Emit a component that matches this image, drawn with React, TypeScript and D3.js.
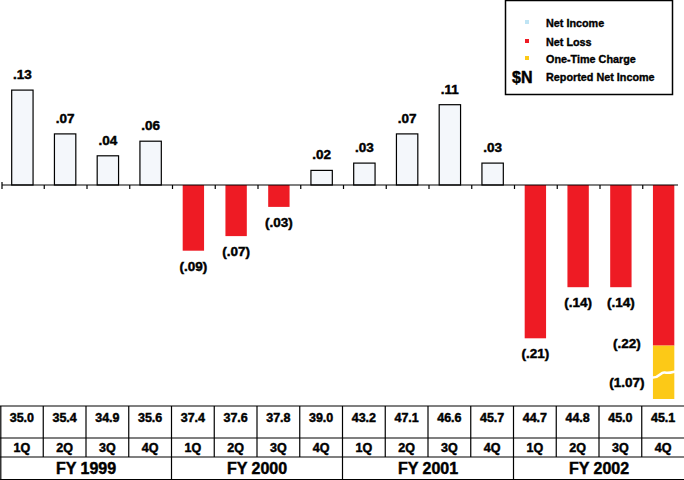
import React from 'react';
import * as d3 from 'd3';

const quarters = ['1Q', '2Q', '3Q', '4Q', '1Q', '2Q', '3Q', '4Q', '1Q', '2Q', '3Q', '4Q', '1Q', '2Q', '3Q', '4Q'];
const years = ['FY 1999', 'FY 2000', 'FY 2001', 'FY 2002'];
const eps = [0.13, 0.07, 0.04, 0.06, -0.09, -0.07, -0.03, 0.02, 0.03, 0.07, 0.11, 0.03, -0.21, -0.14, -0.14, -0.22];
const oneTime = [0, 0, 0, 0, 0, 0, 0, 0, 0, 0, 0, 0, 0, 0, 0, -1.07];
const reported = ['35.0', '35.4', '34.9', '35.6', '37.4', '37.6', '37.8', '39.0', '43.2', '47.1', '46.6', '45.7', '44.7', '44.8', '45.0', '45.1'];
const legendItems = ['Net Income', 'Net Loss', 'One-Time Charge', 'Reported Net Income'];

const W = 684;
const H = 480;
const FONT = '"Liberation Sans", Arial, Helvetica, sans-serif';
const RED = '#ee1b24';
const GOLD = '#fcc917';
const LIGHT = '#f4f7fb';

const fmt = (v: number) => {
  const s = Math.abs(v).toFixed(2).replace(/^0/, '');
  return v < 0 ? `(${s})` : s;
};

const App: React.FC = () => {
  const idx = d3.range(quarters.length);
  const x = d3.scaleBand<number>().domain(idx).range([1, W + 1]).paddingInner(0.5).paddingOuter(0.25);
  const col = d3.scaleBand<number>().domain(idx).range([0.5, W + 0.5]);
  const y = d3.scaleLinear().domain([-0.25, 0.15]).range([185 + 0.25 * 730, 185 - 0.15 * 730]);
  const y0 = y(0);
  const tableTop = 406;
  const row1 = 438;
  const row2 = 457;
  const tableBottom = 479.5;
  const clipBottom = 399;

  // heavier text, closer to the black sans of the original
  const heavy = { stroke: '#000', strokeWidth: 0.45, paintOrder: 'stroke' as const };

  return (
    <svg width={W} height={H} style={{ position: 'absolute', left: 0, top: 0 }} fontFamily={FONT} fontWeight="bold">
      <rect width={W} height={H} fill="#fff" />

      {/* bars */}
      {eps.map((v, i) => {
        const bx = x(i)!;
        const bw = x.bandwidth();
        if (v >= 0) {
          return (
            <g key={i}>
              <rect x={bx} y={y(v)} width={bw} height={y0 - y(v)} fill={LIGHT} stroke="#000" strokeWidth={1.2} />
              <text x={bx + bw / 2} y={y(v) - 11} textAnchor="middle" fontSize={13.5} {...heavy}>{fmt(v)}</text>
            </g>
          );
        }
        const extra = oneTime[i];
        if (extra < 0) {
          const top = y(v);
          const bottom = Math.min(y(v + extra), clipBottom);
          const mid = top + (bottom - top) * 0.56;
          return (
            <g key={i}>
              <rect x={bx} y={y0} width={bw} height={top - y0} fill={RED} />
              <rect x={bx} y={top} width={bw} height={bottom - top} fill={GOLD} />
              <path
                d={`M${bx - 1},${mid + 2} C${bx + bw * 0.3},${mid + 3} ${bx + bw * 0.35},${mid - 4} ${bx + bw * 0.55},${mid - 3} S${bx + bw * 0.85},${mid - 3} ${bx + bw + 1},${mid - 4}`}
                fill="none" stroke="#fff" strokeWidth={2.5}
              />
              <text x={bx - 26} y={top + 2} textAnchor="middle" fontSize={13.5} {...heavy}>{fmt(v)}</text>
              <text x={bx - 26} y={mid + 11} textAnchor="middle" fontSize={13.5} {...heavy}>{fmt(extra)}</text>
            </g>
          );
        }
        return (
          <g key={i}>
            <rect x={bx} y={y0} width={bw} height={y(v) - y0} fill={RED} />
            <text x={bx + bw / 2} y={y(v) + 20} textAnchor="middle" fontSize={13.5} {...heavy}>{fmt(v)}</text>
          </g>
        );
      })}

      {/* baseline axis */}
      <line x1={2} x2={678} y1={y0} y2={y0} stroke="#000" strokeWidth={1.2} />
      <line x1={2} x2={2} y1={y0 - 3} y2={y0 + 4} stroke="#000" strokeWidth={1.2} />
      {idx.slice(1).map((i) => (
        <line key={i} x1={col(i)! + 1} x2={col(i)! + 1} y1={y0} y2={y0 + 4} stroke="#000" strokeWidth={1.2} />
      ))}

      {/* legend */}
      <rect x={505.5} y={0.5} width={167} height={94} fill="#fff" stroke="#000" strokeWidth={1.5} />
      {legendItems.map((d, i) => {
        const ly = [27, 46, 63, 81][i];
        const colors = ['#bfe4f4', RED, GOLD];
        return (
          <g key={d}>
            {i < 3 ? (
              <rect x={525} y={ly - 7} width={4} height={4} fill={colors[i]} />
            ) : (
              <text x={512} y={ly + 2} fontSize={16} {...heavy}>$N</text>
            )}
            <text x={546} y={ly} fontSize={10.8} {...heavy} strokeWidth={0.35}>{d}</text>
          </g>
        );
      })}

      {/* table */}
      <g stroke="#000" strokeWidth={1.2}>
        <line x1={0} x2={W} y1={tableTop} y2={tableTop} />
        <line x1={0} x2={W} y1={row1} y2={row1} />
        <line x1={0} x2={W} y1={row2} y2={row2} />
        <line x1={0} x2={W} y1={tableBottom} y2={tableBottom} />
        <line x1={0.8} x2={0.8} y1={tableTop} y2={tableBottom} />
        {idx.slice(1).map((i) => (
          <line key={i} x1={col(i)!} x2={col(i)!} y1={tableTop} y2={i % 4 === 0 ? tableBottom : row2} />
        ))}
      </g>
      {reported.map((d, i) => (
        <text key={`r${i}`} x={col(i)! + col.bandwidth() / 2} y={422} textAnchor="middle" fontSize={12.5} {...heavy}>{d}</text>
      ))}
      {quarters.map((d, i) => (
        <text key={`q${i}`} x={col(i)! + col.bandwidth() / 2} y={452} textAnchor="middle" fontSize={12.5} {...heavy}>{d}</text>
      ))}
      {years.map((d, i) => (
        <text key={d} x={col(i * 4)! + col.bandwidth() * 2} y={474} textAnchor="middle" fontSize={16} {...heavy}>{d}</text>
      ))}
    </svg>
  );
};

export default App;
